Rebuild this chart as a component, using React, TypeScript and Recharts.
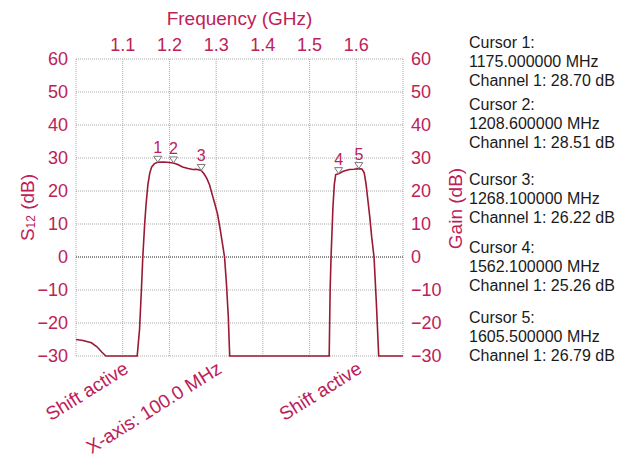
import {
  CartesianGrid,
  ComposedChart,
  Line,
  ReferenceLine,
  Scatter,
  XAxis,
  YAxis,
} from "recharts";

// measured trace (GHz / dB)
const freqGHz = [
  1.0, 1.015, 1.033, 1.045, 1.055, 1.064, 1.131, 1.136, 1.14, 1.143, 1.147, 1.15, 1.154, 1.158,
  1.162, 1.168, 1.175, 1.185, 1.195, 1.2086, 1.218, 1.228, 1.24, 1.25, 1.258, 1.268, 1.274,
  1.28, 1.286, 1.291, 1.297, 1.303, 1.308, 1.313, 1.318, 1.322, 1.326, 1.329, 1.542, 1.544,
  1.546, 1.55, 1.553, 1.556, 1.5621, 1.572, 1.585, 1.595, 1.6055, 1.612, 1.617, 1.621, 1.625,
  1.629, 1.633, 1.638, 1.643, 1.648, 1.7,
];
const s12dB = [
  -25, -25.3, -26, -27.2, -28.8, -30, -30, -22, -10, 0, 10, 16, 22, 25.5, 27.3, 28.3, 28.7,
  28.8, 28.7, 28.51, 28, 27.3, 26.8, 26.5, 26.6, 26.22, 25.2, 23.8, 21.8, 19.2, 16.2, 13, 9,
  4.5, 0, -8, -18, -30, -30, -10, 0, 15, 22, 25, 25.26, 26, 26.5, 26.6, 26.79, 26.7, 25.5, 22,
  17, 12, 6, 0, -14, -30, -30,
];

// cursor read-outs
const cursorNames = ["1", "2", "3", "4", "5"];
const cursorMHz = [1175.0, 1208.6, 1268.1, 1562.1, 1605.5];
const cursorDB = [28.7, 28.51, 26.22, 25.26, 26.79];

const freqTicks = [1.0, 1.1, 1.2, 1.3, 1.4, 1.5, 1.6, 1.7];
const dbTicks = [-30, -20, -10, 0, 10, 20, 30, 40, 50, 60];
const bottomFreqs = [1.1, 1.3, 1.6];
const bottomLabels = ["Shift active", "X-axis: 100.0 MHz", "Shift active"];

const trace = freqGHz.map((f, i) => ({ f, s: s12dB[i] }));
const cursors = cursorMHz.map((m, i) => ({ f: m / 1000, s: cursorDB[i], name: cursorNames[i] }));

const RED = "#bd2158";
const FONT = "'Liberation Sans', Arial, sans-serif";
const groupTops = [33, 95, 170, 238, 308];

const fmtDb = (v: number) => (v < 0 ? "\u2212" + Math.abs(v) : String(v));
const fmtFreq = (v: number) => (v <= 1.0 || v >= 1.7 ? "" : v.toFixed(1));

function CursorMark(props: any) {
  const { cx, cy, payload } = props;
  return (
    <g>
      <path
        d={`M${cx - 4},${cy - 6} L${cx + 4},${cy - 6} L${cx},${cy} Z`}
        fill="#fff"
        stroke="#777"
        strokeWidth={1}
      />
      <text x={cx} y={cy - 9} textAnchor="middle" fill={RED} fontSize={16} fontFamily={FONT}>
        {payload.name}
      </text>
    </g>
  );
}

function BottomTick(props: any) {
  const { x, y, payload } = props;
  const idx = bottomFreqs.findIndex((b) => Math.abs(b - payload.value) < 1e-6);
  if (idx < 0) return null;
  return (
    <text
      transform={`translate(${x + 7},${y + 8}) rotate(-32)`}
      textAnchor="end"
      fill={RED}
      fontSize={19}
      fontFamily={FONT}
    >
      {bottomLabels[idx]}
    </text>
  );
}

export default function App() {
  return (
    <div style={{ position: "absolute", left: 0, top: 0, width: 624, height: 459, background: "#fff" }}>
      <ComposedChart
        width={624}
        height={459}
        margin={{ top: 29, right: 161, bottom: 63, left: 16 }}
      >
        <CartesianGrid
          xAxisId="top"
          yAxisId="left"
          stroke="#aaa"
          strokeDasharray="1 1"
        />
        <XAxis
          xAxisId="top"
          orientation="top"
          dataKey="f"
          type="number"
          domain={[1.0, 1.7]}
          allowDataOverflow
          ticks={freqTicks}
          tickFormatter={fmtFreq}
          height={30}
          axisLine={false}
          tickLine={false}
          interval={0}
          tick={{ fill: RED, fontSize: 18, fontFamily: FONT }}
          label={{
            value: "Frequency (GHz)",
            position: "top",
            offset: 4,
            fill: RED,
            fontSize: 19,
            fontFamily: FONT,
          }}
        />
        <XAxis
          xAxisId="bottom"
          orientation="bottom"
          dataKey="f"
          type="number"
          domain={[1.0, 1.7]}
          allowDataOverflow
          ticks={bottomFreqs}
          height={40}
          axisLine={false}
          tickLine={false}
          interval={0}
          tick={(p: any) => <BottomTick {...p} />}
        />
        <YAxis
          yAxisId="left"
          domain={[-30, 60]}
          ticks={dbTicks}
          tickFormatter={fmtDb}
          width={60}
          axisLine={false}
          tickLine={false}
          interval={0}
          tick={{ fill: RED, fontSize: 18, fontFamily: FONT }}
          label={{
            content: (p: any) => {
              const vb = p.viewBox || { x: 16, y: 59, width: 60, height: 297 };
              const cx = vb.x + 11;
              const cy = vb.y + vb.height / 2;
              return (
                <text
                  transform={`translate(${cx},${cy}) rotate(-90)`}
                  textAnchor="middle"
                  dominantBaseline="central"
                  fill={RED}
                  fontSize={19}
                  fontFamily={FONT}
                >
                  S<tspan fontSize={12} dy={4}>12</tspan>
                  <tspan dy={-4}> (dB)</tspan>
                </text>
              );
            },
          }}
        />
        <YAxis
          yAxisId="right"
          orientation="right"
          domain={[-30, 60]}
          ticks={dbTicks}
          tickFormatter={fmtDb}
          width={60}
          axisLine={false}
          tickLine={false}
          interval={0}
          tick={{ fill: RED, fontSize: 18, fontFamily: FONT, textAnchor: "start" }}
          label={{
            content: (p: any) => {
              const vb = p.viewBox || { x: 403, y: 59, width: 60, height: 297 };
              const cx = vb.x + 52;
              const cy = vb.y + vb.height / 2 + 1;
              return (
                <text
                  transform={`translate(${cx},${cy}) rotate(-90)`}
                  textAnchor="middle"
                  dominantBaseline="central"
                  fill={RED}
                  fontSize={19}
                  fontFamily={FONT}
                >
                  Gain (dB)
                </text>
              );
            },
          }}
        />
        <ReferenceLine xAxisId="top" yAxisId="left" y={0} stroke="#444" strokeDasharray="1 1" />
        {/* invisible copy so the bottom axis has a series bound to it */}
        <Line
          xAxisId="bottom"
          yAxisId="right"
          data={trace}
          dataKey="s"
          stroke="none"
          dot={false}
          activeDot={false}
          isAnimationActive={false}
        />
        <Line
          xAxisId="top"
          yAxisId="left"
          data={trace}
          dataKey="s"
          type="linear"
          stroke="#9a1a33"
          strokeWidth={1.6}
          dot={false}
          activeDot={false}
          isAnimationActive={false}
        />
        <Scatter
          xAxisId="top"
          yAxisId="left"
          data={cursors}
          dataKey="s"
          shape={<CursorMark />}
          isAnimationActive={false}
        />
      </ComposedChart>
      {cursorMHz.map((m, i) => (
        <div
          key={i}
          style={{
            position: "absolute",
            left: 469,
            top: groupTops[i],
            fontFamily: FONT,
            fontSize: 16,
            lineHeight: "19.2px",
            color: "#1a1a1a",
            whiteSpace: "nowrap",
          }}
        >
          <div>Cursor {cursorNames[i]}:</div>
          <div>{m.toFixed(6)} MHz</div>
          <div>Channel 1: {cursorDB[i].toFixed(2)} dB</div>
        </div>
      ))}
    </div>
  );
}
